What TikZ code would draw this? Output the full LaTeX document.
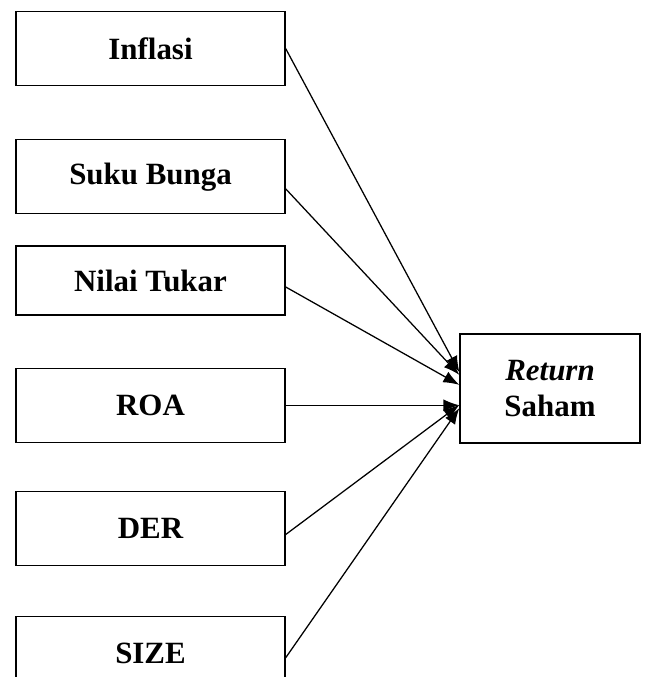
\documentclass[tikz,border=0pt]{standalone}
\usepackage{fontspec}
\setmainfont{Liberation Serif}
\usetikzlibrary{arrows,arrows.meta,positioning}

\tikzset{
  var/.style={draw, line width=0.9pt, minimum width=6.725cm, minimum height=1.85cm, inner sep=0pt,
    font=\fontsize{22}{26}\selectfont\bfseries},
  panah/.style={-{Latex[length=0.4cm,width=0.3cm]}, line width=0.9pt}
}

\begin{document}
\begin{tikzpicture}
    \useasboundingbox (0,0) rectangle (16.1,-16.925);

    \node[var] (inflasi) at (3.7625,-1.2125) {Inflasi};
    \node[var, below=1.325cm of inflasi] (suku) {Suku Bunga};
    \node[var, minimum height=1.725cm, below=0.775cm of suku] (nilai) {Nilai Tukar};
    \node[var, below=1.3cm of nilai] (roa) {ROA};
    \node[var, below=1.2cm of roa] (der) {DER};
    \node[var, below=1.25cm of der] (size) {SIZE};

    \node[draw, line width=0.9pt, minimum width=4.5cm, minimum height=2.725cm, inner sep=0pt, align=center,
      font=\fontsize{22}{26}\selectfont\bfseries] (ret) at (13.75,-9.7125) {\textit{Return}\\Saham};

    \draw[panah] (inflasi.east) -- ([yshift=0.41cm]ret.west);
    \draw[panah] ([yshift=-0.3cm]suku.east) -- ([yshift=0.34cm]ret.west);
    \draw[panah] ([yshift=-0.16cm]nilai.east) -- ([yshift=0.09cm]ret.west);
    \draw[panah] (roa.east) -- (roa.east -| ret.west);
    \draw[panah] ([yshift=-0.15cm]der.east) -- ([yshift=-0.41cm]ret.west);
    \draw[panah] ([yshift=-0.1cm]size.east) -- ([yshift=-0.49cm]ret.west);
  \end{tikzpicture}
\end{document}
